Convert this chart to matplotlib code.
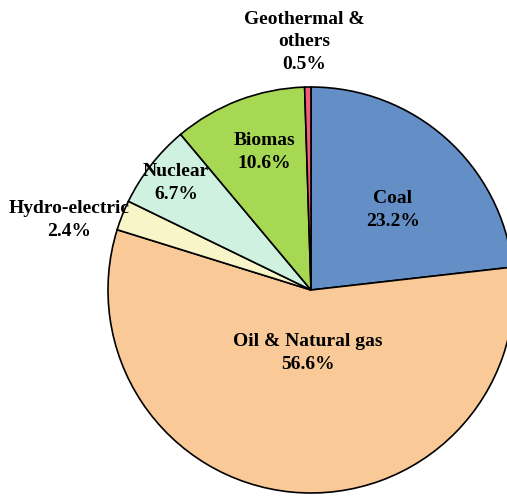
import numpy as np
import matplotlib
matplotlib.use("Agg")
import matplotlib.pyplot as plt

# energy mix shares (%), clockwise from 12 o'clock
sources = ["Coal", "Oil & Natural gas", "Hydro-electric", "Nuclear", "Biomas",
           "Geothermal &\nothers"]
shares = [23.2, 56.6, 2.4, 6.7, 10.6, 0.5]
colors = ["#648ec6", "#f9c998", "#f8f6c8", "#cff2e0", "#a6d854", "#ef5f7b"]

# label centres in pixels (x from left, y from top)
label_pos = [(393, 210), (308, 353), (69, 220), (176, 183), (264, 152), (304, 42)]

W, H = 507, 496
fig = plt.figure(figsize=(W / 100, H / 100), dpi=100)
ax = fig.add_axes([0, 0, 1, 1])

cx, cy, r = 311, H - 290, 203
ax.pie(shares, colors=colors, startangle=90, counterclock=False,
       center=(cx, cy), radius=r, frame=True,
       wedgeprops=dict(edgecolor="black", linewidth=1.2))
ax.set_xlim(0, W)
ax.set_ylim(0, H)
ax.axis("off")

for name, val, (x, y) in zip(sources, shares, label_pos):
    ax.text(x, H - y, f"{name}\n{val}%", ha="center", va="center",
            fontsize=14, fontweight="bold", family="Liberation Serif",
            linespacing=1.45)

fig.savefig("out.png", dpi=100)
